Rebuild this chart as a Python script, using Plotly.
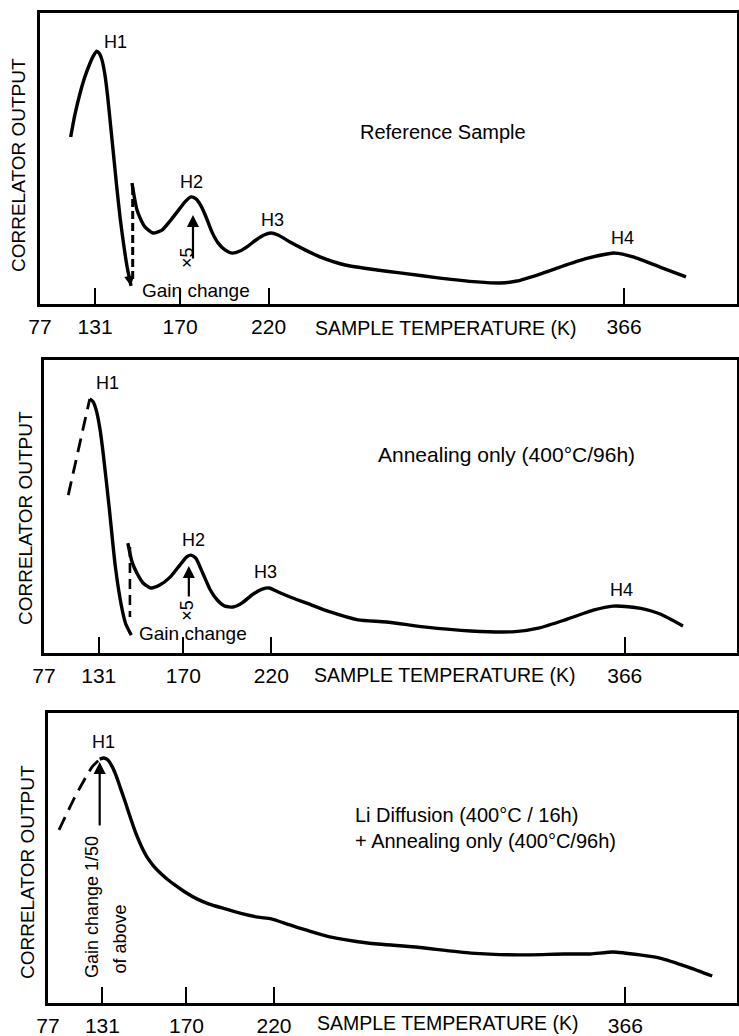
import plotly.graph_objects as go

W, H = 739, 1036

# ---- shared axis ticks (position along scan axis, 0-100 units) ----
tick_vals = [0, 7.9, 20.1, 32.8, 83.8]
tick_text = ["77", "131", "170", "220", "366"]

# ---- Panel 1: Reference sample ----
p1_h1_x = [4.40, 5.00, 5.70, 6.40, 7.10, 7.60, 8.12, 8.50, 8.90, 9.30, 9.70, 10.10,
           10.50, 11.00, 11.50, 12.00, 12.50, 12.85, 13.06]
p1_h1_y = [57.4, 65.0, 72.0, 77.8, 82.3, 85.0, 86.9, 86.2, 83.8, 79.0, 71.5, 62.0,
           52.5, 40.5, 29.5, 20.5, 12.7, 8.6, 6.2]
p1_main_x = [13.20, 13.56, 13.92, 14.49, 15.06, 16.21, 17.50, 18.65, 19.80, 20.80, 21.66,
             22.38, 23.10, 23.82, 24.68, 25.54, 26.54, 27.55, 28.69, 29.84, 30.99, 32.14,
             33.14, 34.15, 35.87, 38.02, 40.17, 43.76, 48.35, 51.65, 57.39, 62.70, 66.00,
             68.44, 71.74, 74.61, 78.19, 81.35, 82.50, 85.08, 88.95, 92.68]
p1_main_y = [41.6, 36.4, 32.3, 28.9, 26.5, 24.4, 25.4, 28.5, 32.0, 35.1, 36.8,
             36.1, 33.7, 29.9, 24.7, 21.0, 18.6, 17.5, 18.2, 19.9, 22.0, 23.7,
             24.4, 23.7, 21.3, 18.6, 16.2, 13.4, 11.7, 10.7, 8.9, 7.6, 7.2,
             7.9, 10.3, 12.7, 15.5, 17.2, 17.5, 16.2, 12.7, 9.3]
p1_gain_x = [13.3, 13.3]
p1_gain_y = [40.2, 7.6]

# ---- Panel 2: Annealing only ----
p2_rise_x = [3.5, 6.6]
p2_rise_y = [53.9, 86.7]
p2_h1_x = [6.6, 7.1, 7.6, 8.1, 8.6, 9.4, 10.3, 11.2, 11.8, 12.6]
p2_h1_y = [86.7, 85.7, 82.3, 76.1, 66.9, 49.8, 29.4, 15.7, 9.9, 6.1]
p2_main_x = [12.1, 12.7, 13.4, 14.3, 15.4, 16.7, 18.2, 19.6, 20.6, 21.2, 21.9, 22.9,
             24.0, 25.0, 26.1, 27.3, 28.6, 30.0, 31.5, 32.5, 33.8, 35.5, 37.8, 41.3,
             45.3, 49.4, 54.8, 61.6, 68.0, 71.5, 75.2, 79.4, 82.1, 84.3, 86.1, 88.9, 92.2]
p2_main_y = [37.5, 31.1, 27.3, 23.9, 22.2, 23.2, 25.9, 30.0, 32.8, 33.4, 32.4, 27.3,
             21.5, 18.1, 16.0, 15.7, 17.1, 19.8, 21.8, 22.2, 20.8, 19.1, 17.1, 14.0,
             11.3, 10.6, 8.9, 7.5, 7.3, 8.6, 11.3, 14.7, 16.0, 15.8, 15.2, 13.3, 9.2]
p2_gain_x = [12.4, 12.4]
p2_gain_y = [36.2, 12.3]

# ---- Panel 3: Li diffusion + annealing ----
p3_rise_x = [1.6, 3.9, 6.4, 7.4]
p3_rise_y = [59.7, 71.0, 81.4, 83.8]
p3_main_x = [7.5, 8.1, 8.7, 9.3, 9.9, 10.5, 11.2, 12.0, 12.8, 13.6, 14.4, 15.3, 16.3,
             17.4, 18.6, 20.0, 21.6, 23.3, 25.5, 28.0, 30.5, 32.4, 35.1, 37.4, 40.9,
             46.4, 53.3, 61.4, 68.2, 75.0, 78.7, 82.0, 85.9, 88.8, 92.9, 96.4]
p3_main_y = [84.1, 84.5, 83.8, 81.6, 78.3, 74.2, 69.4, 63.6, 58.2, 53.8, 50.2, 47.3, 44.8,
             42.5, 40.4, 38.1, 35.9, 34.2, 32.6, 30.9, 29.6, 29.0, 26.9, 25.2, 22.8,
             20.7, 19.3, 17.2, 16.6, 16.9, 16.9, 17.6, 16.6, 15.5, 12.4, 9.3]

FONT = "Liberation Sans, Arial, sans-serif"
TICKFONT = "Liberation Sans Narrow, Liberation Sans, Arial, sans-serif"

fig = go.Figure()

def curve(x, y, ax, dash=None, width=3.4):
    fig.add_trace(go.Scatter(
        x=x, y=y, mode="lines", xaxis="x" + ax, yaxis="y" + ax,
        line=dict(color="black", width=width, shape="spline", smoothing=0.6,
                  dash=dash if dash else "solid"),
        hoverinfo="skip", showlegend=False))

curve(p1_h1_x, p1_h1_y, "")
curve(p1_main_x, p1_main_y, "")
curve(p1_gain_x, p1_gain_y, "", dash="8px,4px", width=3)
curve(p2_rise_x, p2_rise_y, "2", dash="14px,8px", width=2.8)
curve(p2_h1_x, p2_h1_y, "2")
curve(p2_main_x, p2_main_y, "2")
curve(p2_gain_x, p2_gain_y, "2", dash="10px,6px", width=2.6)
curve(p3_rise_x, p3_rise_y, "3", dash="14px,8px", width=2.8)
curve(p3_main_x, p3_main_y, "3")

# panel pixel boxes: (left, top, right, bottom)
boxes = [(40, 13, 737, 304), (44, 360, 737, 653), (48, 713, 737, 1003)]

layout = dict(width=W, height=H, margin=dict(l=0, r=0, t=0, b=0, autoexpand=False),
              paper_bgcolor="white", plot_bgcolor="white", showlegend=False)
for i, (l, t, r, b) in enumerate(boxes):
    sfx = "" if i == 0 else str(i + 1)
    layout["xaxis" + sfx] = dict(
        domain=[l / W, r / W], range=[0, 100], anchor="y" + sfx, automargin=False,
        showline=True, linecolor="black", linewidth=2.6, mirror=True,
        showgrid=False, zeroline=False,
        ticks="inside", ticklen=16, tickwidth=1.7, tickcolor="black",
        tickvals=tick_vals, ticktext=tick_text,
        tickfont=dict(family=TICKFONT, size=21, color="black"),
        ticklabelstandoff=2)
    layout["yaxis" + sfx] = dict(
        domain=[1 - b / H, 1 - t / H], range=[0, 100], anchor="x" + sfx, automargin=False,
        showline=True, linecolor="black", linewidth=2.6, mirror=True,
        showgrid=False, zeroline=False, showticklabels=False, ticks="")
fig.update_layout(**layout)

anns = []

def txt(s, x, y, ax="", size=19, angle=0, xanchor="center", align="center",
        xref=None, yref=None):
    anns.append(dict(text=s, x=x, y=y, xref=xref or ("x" + ax), yref=yref or ("y" + ax),
                     showarrow=False, textangle=angle, xanchor=xanchor, yanchor="middle",
                     align=align, font=dict(family=FONT, size=size, color="black")))

def arrow(x, y0, y1, ax=""):
    anns.append(dict(x=x, y=y1, ax=x, ay=y0, xref="x" + ax, yref="y" + ax,
                     axref="x" + ax, ayref="y" + ax, showarrow=True, text="",
                     arrowhead=2, arrowsize=1.1, arrowwidth=2.2, arrowcolor="black",
                     standoff=0, startstandoff=0))

# Panel 1 labels
txt("H1", 10.8, 90.0, "", 18)
txt("H2", 21.8, 41.9, "", 18)
txt("H3", 33.4, 28.9, "", 18)
txt("H4", 83.6, 22.7, "", 18)
txt("Reference Sample", 57.8, 59.1, "", 20)
txt("Gain change", 22.4, 4.8, "", 19)
txt("×5", 21.1, 15.8, "", 18, angle=-90)
arrow(21.95, 15.1, 30.6, "")
anns.append(dict(x=13.06, y=6.2, ax=12.8, ay=9.5, xref="x", yref="y", axref="x", ayref="y",
                 showarrow=True, text="", arrowhead=2, arrowsize=0.8, arrowwidth=2.5,
                 arrowcolor="black", standoff=0))

# Panel 2 labels
txt("H1", 9.1, 92.2, "2", 18)
txt("H2", 21.5, 38.6, "2", 18)
txt("H3", 32.0, 27.6, "2", 18)
txt("H4", 83.4, 21.5, "2", 18)
txt("Annealing only (400°C/96h)", 66.7, 67.6, "2", 21)
txt("Gain change", 21.5, 6.8, "2", 19)
txt("×5", 20.6, 14.7, "2", 18, angle=-90)
arrow(20.9, 18.8, 29.7, "2")

# Panel 3 labels
txt("H1", 8.1, 90.0, "3", 18)
txt("Li Diffusion (400°C / 16h)<br>+ Annealing only (400°C/96h)", 44.3, 60.2, "3", 20,
    xanchor="left", align="left")
txt("Gain change 1/50", 6.4, 33.1, "3", 18, angle=-90)
txt("of above", 10.4, 22.1, "3", 18, angle=-90)
arrow(7.5, 60.7, 83.1, "3")

# Axis titles (paper coordinates)
for (cx, cy) in [(446, 328), (445, 675), (448, 1023)]:
    txt("SAMPLE TEMPERATURE (K)", cx / W, 1 - cy / H, size=19.5, xref="paper", yref="paper")
for (cx, cy) in [(19, 165), (25, 518), (27, 872)]:
    txt("CORRELATOR OUTPUT", cx / W, 1 - cy / H, size=19, angle=-90,
        xref="paper", yref="paper")

fig.update_layout(annotations=anns)
fig.write_html("out.html")
